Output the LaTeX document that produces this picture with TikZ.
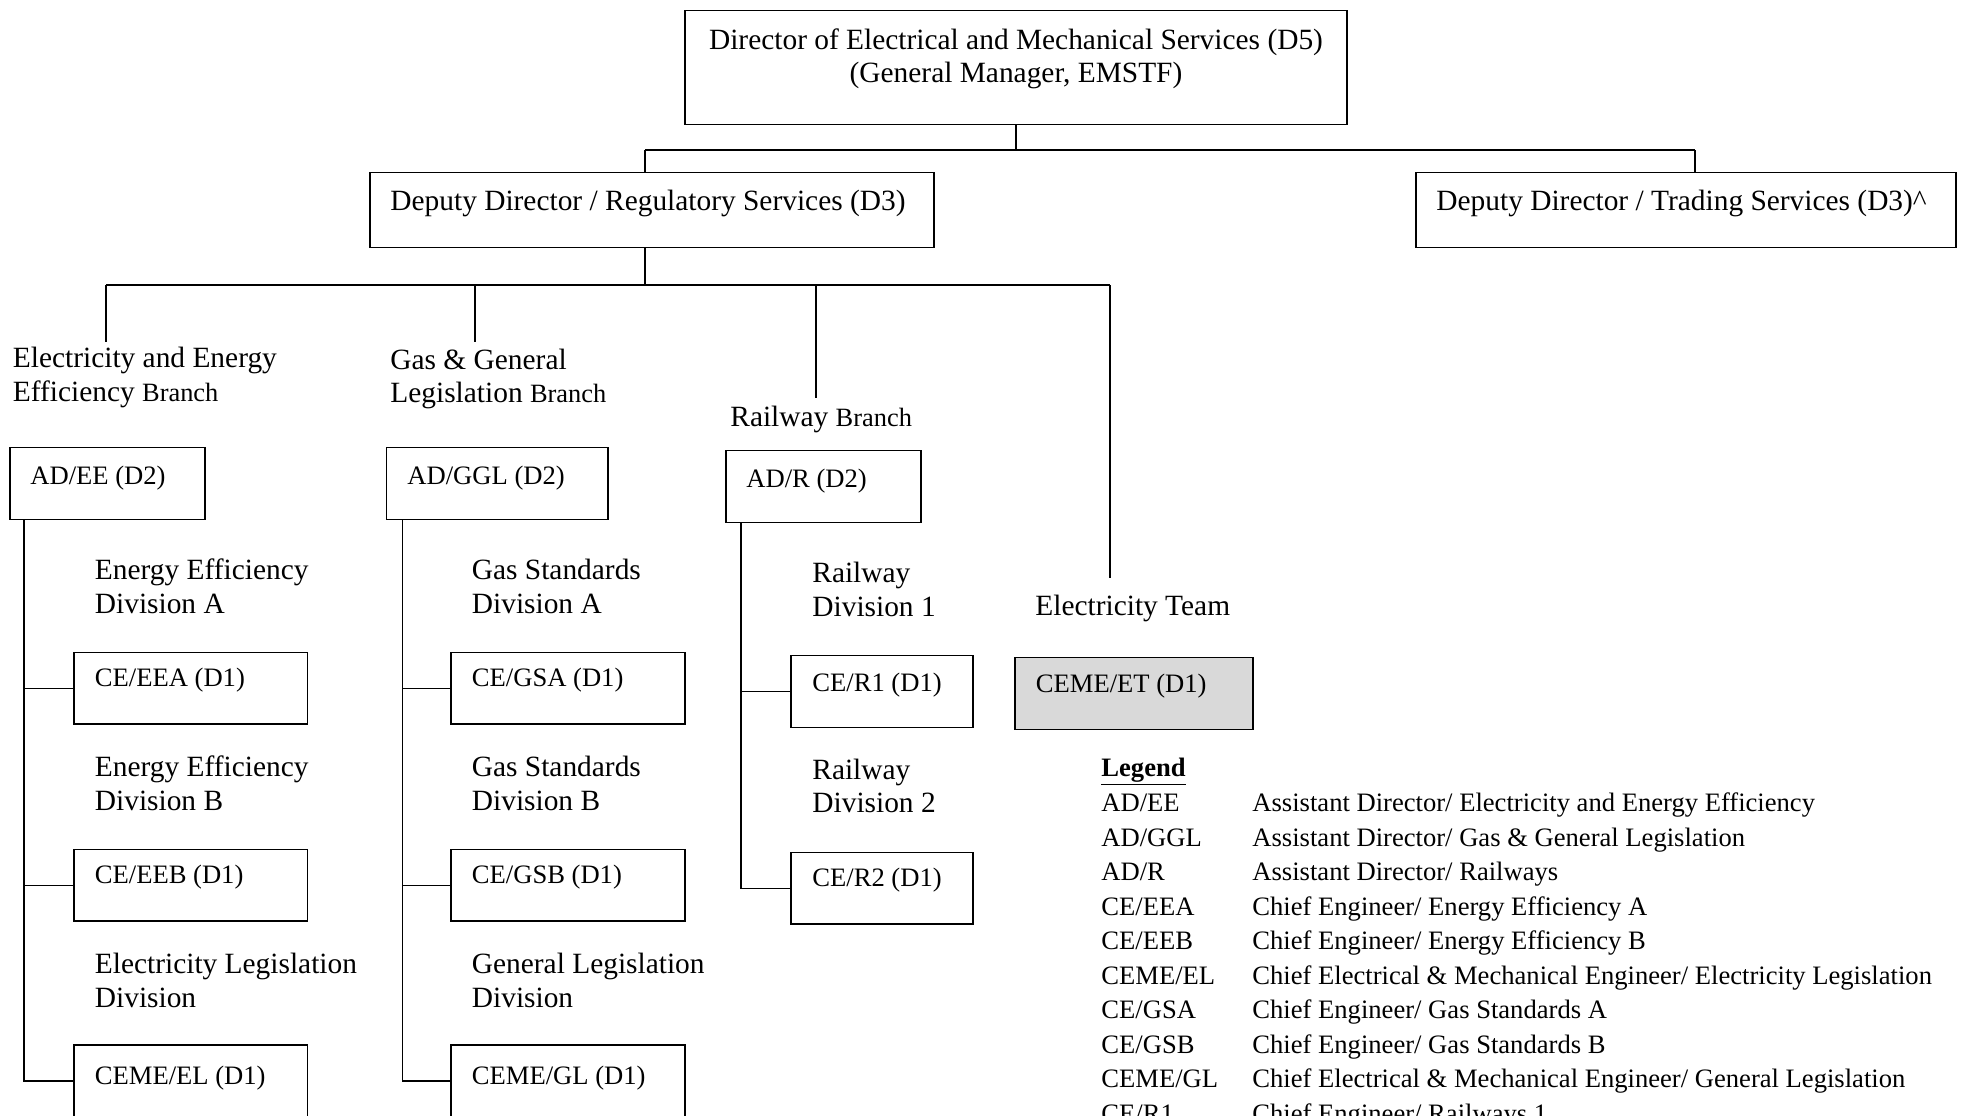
\documentclass[tikz,border=0pt]{standalone}
\usepackage{fontspec}
\setmainfont{Liberation Serif}
\usetikzlibrary{fit}
\begin{document}
\begin{tikzpicture}[x=0.5pt,y=-0.5pt,
  box/.style={draw, line width=0.7pt, inner sep=0pt},
  greybox/.style={box, fill=boxgrey},
  conn/.style={line width=0.7pt},
  main/.style={font=\fontsize{14.7}{17}\selectfont, inner sep=0pt, anchor=base west},
  ctr/.style={main, anchor=base},
  lbl/.style={font=\fontsize{13.3}{17}\selectfont, inner sep=0pt, anchor=base west},
  leg/.style={font=\fontsize{13.3}{17}\selectfont, inner sep=0pt, anchor=base west}]
\definecolor{boxgrey}{HTML}{D9D9D9}
\newcommand{\br}{\fontsize{13.2}{17}\selectfont}
\path[use as bounding box] (0,0) rectangle (1961,1115);
\clip (0,0) rectangle (1961,1115);

% ---------- boxes ----------
\node[box, fit={(685,10.5)(1347,124.5)}] (d5) {};
\node[box, fit={(370,172.5)(934,247.5)}] (reg) {};
\node[box, fit={(1416,172.5)(1956,247.5)}] (trd) {};
\node[box, fit={(10,447.5)(205,519.5)}] (adee) {};
\node[box, fit={(386.5,447.5)(608,519.5)}] (adggl) {};
\node[box, fit={(726,450.5)(921,522.5)}] (adr) {};
\node[box, fit={(74,652.5)(307.5,724)}] (ceea) {};
\node[box, fit={(74,849.5)(307.5,921)}] (ceeb) {};
\node[box, fit={(74,1045)(307.5,1117)}] (ceel) {};
\node[box, fit={(451,652.5)(685,724)}] (cegsa) {};
\node[box, fit={(451,849.5)(685,921)}] (cegsb) {};
\node[box, fit={(451,1045)(685,1117)}] (cegl) {};
\node[box, fit={(791,655.5)(973,727.5)}] (cer1) {};
\node[box, fit={(791,852.5)(973,924)}] (cer2) {};
\node[greybox, fit={(1015,657.5)(1253,729.5)}] (ceet) {};

% ---------- texts ----------
\node[ctr] (d5a) at (1016,49) {Director of Electrical and Mechanical Services (D5)};
\node[ctr] (d5b) at (1016,82.5) {(General Manager, EMSTF)};
\node[main] (regt) at (390,210) {Deputy Director / Regulatory Services (D3)};
\node[main] (trdt) at (1436,210) {Deputy Director / Trading Services (D3)\textasciicircum};

\node[main] (eeb1) at (12.5,367) {Electricity and Energy};
\node[main] (eeb2) at (12.5,401) {Efficiency {\br Branch}};
\node[main] (ggb1) at (390,369) {Gas \& General};
\node[main] (ggb2) at (390,402.5) {Legislation {\br Branch}};
\node[main] (rb) at (730,426) {Railway {\br Branch}};
\node[main] (ett) at (1035,615) {Electricity Team};

\node[lbl] (adeet) at (30,484) {AD/EE (D2)};
\node[lbl] (adgglt) at (407,484) {AD/GGL (D2)};
\node[lbl] (adrt) at (746,487) {AD/R (D2)};

\node[main] (eda1) at (94.5,579.3) {Energy Efficiency};
\node[main] (eda2) at (94.5,613.3) {Division A};
\node[lbl] (ceeat) at (94.5,686.7) {CE/EEA (D1)};
\node[main] (edb1) at (94.5,776.7) {Energy Efficiency};
\node[main] (edb2) at (94.5,810.3) {Division B};
\node[lbl] (ceebt) at (94.5,883.3) {CE/EEB (D1)};
\node[main] (edl1) at (94.5,973) {Electricity Legislation};
\node[main] (edl2) at (94.5,1007) {Division};
\node[lbl] (ceelt) at (94.5,1084) {CEME/EL (D1)};

\node[main] (gsa1) at (471.5,579.3) {Gas Standards};
\node[main] (gsa2) at (471.5,613.3) {Division A};
\node[lbl] (cegsat) at (471.5,686.7) {CE/GSA (D1)};
\node[main] (gsb1) at (471.5,776.7) {Gas Standards};
\node[main] (gsb2) at (471.5,810.3) {Division B};
\node[lbl] (cegsbt) at (471.5,883.3) {CE/GSB (D1)};
\node[main] (gl1) at (471.5,973) {General Legislation};
\node[main] (gl2) at (471.5,1007) {Division};
\node[lbl] (ceglt) at (471.5,1084) {CEME/GL (D1)};

\node[main] (rd11) at (812,582.7) {Railway};
\node[main] (rd12) at (812,616.7) {Division 1};
\node[lbl] (cer1t) at (812,691.7) {CE/R1 (D1)};
\node[main] (rd21) at (812,779.3) {Railway};
\node[main] (rd22) at (812,812.7) {Division 2};
\node[lbl] (cer2t) at (812,886.7) {CE/R2 (D1)};
\node[lbl] (ceett) at (1035.5,692.7) {CEME/ET (D1)};

% ---------- legend ----------
\node[leg] (legh) at (1101,776) {\textbf{\underline{Legend}}};
\node[leg] (la1) at (1101,811.7) {AD/EE};   \node[leg] (lb1) at (1252,811.7) {Assistant Director/ Electricity and Energy Efficiency};
\node[leg] (la2) at (1101,846.2) {AD/GGL};  \node[leg] (lb2) at (1252,846.2) {Assistant Director/ Gas \& General Legislation};
\node[leg] (la3) at (1101,880.7) {AD/R};    \node[leg] (lb3) at (1252,880.7) {Assistant Director/ Railways};
\node[leg] (la4) at (1101,915.2) {CE/EEA};  \node[leg] (lb4) at (1252,915.2) {Chief Engineer/ Energy Efficiency A};
\node[leg] (la5) at (1101,949.7) {CE/EEB};  \node[leg] (lb5) at (1252,949.7) {Chief Engineer/ Energy Efficiency B};
\node[leg] (la6) at (1101,984.2) {CEME/EL}; \node[leg] (lb6) at (1252,984.2) {Chief Electrical \& Mechanical Engineer/ Electricity Legislation};
\node[leg] (la7) at (1101,1018.7) {CE/GSA}; \node[leg] (lb7) at (1252,1018.7) {Chief Engineer/ Gas Standards A};
\node[leg] (la8) at (1101,1053.2) {CE/GSB}; \node[leg] (lb8) at (1252,1053.2) {Chief Engineer/ Gas Standards B};
\node[leg] (la9) at (1101,1087.7) {CEME/GL}; \node[leg] (lb9) at (1252,1087.7) {Chief Electrical \& Mechanical Engineer/ General Legislation};
\node[leg] (la10) at (1101,1122.2) {CE/R1}; \node[leg] (lb10) at (1252,1122.2) {Chief Engineer/ Railways 1};

% ---------- connectors ----------
\coordinate (busL) at (645,150);
\coordinate (busR) at (1695,150);
\coordinate (b2L) at (106,285);
\coordinate (b2R) at (1110,285);
\coordinate (eeTop) at (106,342);
\coordinate (ggTop) at (475,342);
\coordinate (rTop) at (816,398);
\coordinate (etTop) at (1110,578);
\coordinate (eeX) at (24,0);
\coordinate (ggX) at (402.5,0);
\coordinate (rX) at (741,0);

\draw[conn] (d5.south) -- (d5.south |- busL);
\draw[conn] (busL) -- (busR);
\draw[conn] (busL) -- (busL |- reg.north);
\draw[conn] (busR) -- (busR |- trd.north);
\draw[conn] (busL |- reg.south) -- (busL |- b2L);
\draw[conn] (b2L) -- (b2R);
\draw[conn] (b2L) -- (eeTop);
\draw[conn] (ggTop |- b2L) -- (ggTop);
\draw[conn] (rTop |- b2L) -- (rTop);
\draw[conn] (b2R) -- (etTop);

\draw[conn] (eeX |- adee.south) -- (eeX |- ceel.west) -- (ceel.west);
\draw[conn] (eeX |- ceea.west) -- (ceea.west);
\draw[conn] (eeX |- ceeb.west) -- (ceeb.west);

\draw[conn] (ggX |- adggl.south) -- (ggX |- cegl.west) -- (cegl.west);
\draw[conn] (ggX |- cegsa.west) -- (cegsa.west);
\draw[conn] (ggX |- cegsb.west) -- (cegsb.west);

\draw[conn] (rX |- adr.south) -- (rX |- cer2.west) -- (cer2.west);
\draw[conn] (rX |- cer1.west) -- (cer1.west);
\end{tikzpicture}
\end{document}
